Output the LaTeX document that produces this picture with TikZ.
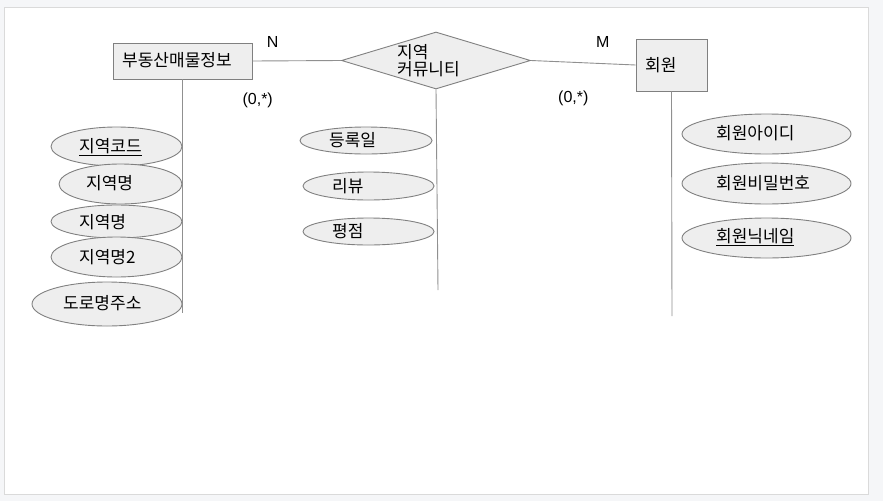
\documentclass[tikz,border=0pt]{standalone}
\usepackage{fontspec}
\setmainfont{Noto Sans CJK KR}
\newfontfamily\latinfont{Liberation Sans}
\usetikzlibrary{shapes.geometric}
\definecolor{pagebg}{HTML}{F5F6F8}
\definecolor{panelline}{HTML}{DADADA}
\definecolor{boxfill}{HTML}{EEEEEE}
\definecolor{boxline}{HTML}{808080}
\definecolor{connline}{HTML}{909090}
\begin{document}
\begin{tikzpicture}[x=1pt,y=-1pt,
  entity/.style={draw=boxline,fill=boxfill,line width=0.9pt,inner sep=0pt},
  relship/.style={diamond,draw=boxline,fill=boxfill,line width=0.9pt,inner sep=0pt},
  attr/.style={ellipse,draw=boxline,fill=boxfill,line width=0.9pt,inner sep=0pt},
  conn/.style={draw=connline,line width=0.9pt},
  lbl/.style={inner sep=0pt,anchor=west,font=\fontsize{17}{17}\selectfont},
  card/.style={inner sep=0pt,font=\latinfont\fontsize{16}{18}\selectfont}]
\fill[pagebg] (0,0) rectangle (883,501);
\useasboundingbox (0,0) rectangle (883,501);
\filldraw[fill=white,draw=panelline,line width=0.8pt] (4,7) rectangle (868,494);

% entities and relationship
\node[entity,minimum width=139,minimum height=36] (re) at (182.5,61) {};
\node[relship,minimum width=189,minimum height=57] (rel) at (436,60.5) {};
\node[entity,minimum width=71,minimum height=52] (mem) at (671.5,65) {};

\node[lbl] (reT) at (122,60) {부동산매물정보};
\node[lbl,align=left,font=\fontsize{17}{16.5}\selectfont] (relT) at (397,60.5) {지역\\커뮤니티};
\node[lbl] (memT) at (645,65) {회원};

% connectors
\coordinate (reEnd) at (182.5,313);
\coordinate (relEnd) at (438,290);
\coordinate (memEnd) at (672,316);
\draw[conn] (re.east) -- (rel.west);
\draw[conn] (rel.east) -- (mem.west);
\draw[conn] (re.south) -- (reEnd);
\draw[conn] (rel.south) -- (relEnd);
\draw[conn] (mem.south) -- (memEnd);

% cardinalities
\node[card] (cN) at (272.7,42.3) {N};
\node[card] (cM) at (602.7,42.3) {M};
\node[card] (c1) at (257.7,100) {(0,*)};
\node[card] (c2) at (573.3,98) {(0,*)};

% attributes of 부동산매물정보
\node[attr,minimum width=131,minimum height=39] (a1) at (116.5,146.5) {};
\node[attr,minimum width=123,minimum height=40] (a2) at (120.5,184) {};
\node[attr,minimum width=131,minimum height=33] (a3) at (116.5,221.5) {};
\node[attr,minimum width=131,minimum height=40] (a4) at (116.5,257) {};
\node[attr,minimum width=150,minimum height=44] (a5) at (107,304) {};
\node[lbl] (a1T) at (79,147) {\underline{지역코드}};
\node[lbl] (a2T) at (86,183) {지역명};
\node[lbl] (a3T) at (79,222) {지역명};
\node[lbl] (a4T) at (79,257) {지역명2};
\node[lbl] (a5T) at (63,303) {도로명주소};

% attributes of 지역 커뮤니티
\node[attr,minimum width=132,minimum height=27] (b1) at (366,140.5) {};
\node[attr,minimum width=131,minimum height=28] (b2) at (368.5,186) {};
\node[attr,minimum width=131,minimum height=27] (b3) at (368.5,231.5) {};
\node[lbl] (b1T) at (329,140) {등록일};
\node[lbl] (b2T) at (332,186) {리뷰};
\node[lbl] (b3T) at (332,231) {평점};

% attributes of 회원
\node[attr,minimum width=169,minimum height=40] (m1) at (766.5,134) {};
\node[attr,minimum width=169,minimum height=41] (m2) at (766.5,183.5) {};
\node[attr,minimum width=169,minimum height=40] (m3) at (766.5,238) {};
\node[lbl] (m1T) at (716,133) {회원아이디};
\node[lbl] (m2T) at (716,183) {회원비밀번호};
\node[lbl] (m3T) at (716,237) {\underline{회원닉네임}};
\end{tikzpicture}
\end{document}
